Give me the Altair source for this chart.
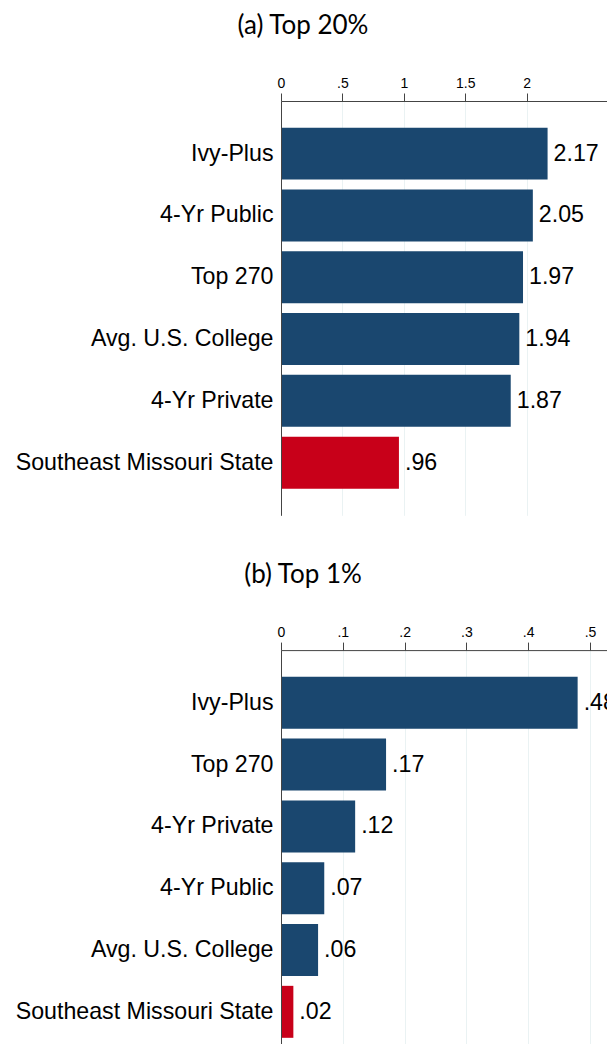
import altair as alt
import pandas as pd

# ---- data ----
cats_a = ["Ivy-Plus", "4-Yr Public", "Top 270", "Avg. U.S. College", "4-Yr Private", "Southeast Missouri State"]
vals_a = [2.17, 2.05, 1.97, 1.94, 1.87, 0.96]
cats_b = ["Ivy-Plus", "Top 270", "4-Yr Private", "4-Yr Public", "Avg. U.S. College", "Southeast Missouri State"]
vals_b = [0.48, 0.17, 0.12, 0.07, 0.06, 0.02]
highlight = "Southeast Missouri State"
ticks_a = [0, 0.5, 1, 1.5, 2]
ticks_b = [0, 0.1, 0.2, 0.3, 0.4, 0.5]
title_a = "(a) Top 20%"
title_b = "(b) Top 1%"

NAVY = "#1a476f"
RED = "#c80019"
GRID = "#eaf2f3"
AXIS = "#444444"
LABFONT = "Liberation Sans"
PLOT_W = 326


def fmt(v):
    s = f"{v:.2f}"
    return s[1:] if s.startswith("0") else s


def panel(cats, vals, ticks, xmax, title, height, pad_outer, align):
    df = pd.DataFrame({
        "cat": cats,
        "val": vals,
        "lab": [fmt(v) for v in vals],
        "grp": ["hl" if c == highlight else "base" for c in cats],
    })
    yscale = alt.Scale(paddingInner=0.159, paddingOuter=pad_outer, align=align)
    y = alt.Y("cat:N", sort=cats, title=None, scale=yscale,
              axis=alt.Axis(ticks=False, labelFontSize=23.2, labelFont=LABFONT,
                            labelColor="black", labelPadding=8, domainColor=AXIS,
                            domainWidth=1, labelLimit=400, zindex=1))
    x = alt.X("val:Q", title=None,
              scale=alt.Scale(domain=[0, xmax], nice=False, zero=True),
              axis=alt.Axis(orient="top", values=ticks, grid=True, gridColor=GRID,
                            gridWidth=1, tickSize=8, tickColor=AXIS, domainColor=AXIS,
                            labelFont=LABFONT, labelFontSize=14, labelColor="black",
                            labelPadding=3, labelFlush=False,
                            labelExpr="datum.value == 0 ? '0' : replace(format(datum.value, '.1~f'), '0.', '.')"))
    bars = alt.Chart(df).mark_bar().encode(
        x=x, y=y,
        color=alt.Color("grp:N", scale=alt.Scale(domain=["base", "hl"], range=[NAVY, RED]), legend=None),
    )
    text = alt.Chart(df).mark_text(align="left", baseline="middle", dx=6, fontSize=23.2,
                                   font=LABFONT, color="black", clip=True).encode(
        x=alt.X("val:Q"), y=alt.Y("cat:N", sort=cats), text="lab:N")
    return alt.layer(bars, text).properties(
        width=PLOT_W, height=height,
        title=alt.TitleParams(text=title, font="Lato", fontSize=26, fontWeight="normal",
                              color="black", anchor="middle", frame="group",
                              dx=303 - (281 + PLOT_W / 2), offset=37.5),
    )


pa = panel(cats_a, vals_a, ticks_a, PLOT_W / 122.85, title_a, 414.3, 0.431, 0.5)
pb = panel(cats_b, vals_b, ticks_b, PLOT_W / 618.0, title_b, 393.5, 0.2627, 0.822)

chart = alt.vconcat(pa, pb, spacing=45.1).configure_view(stroke=None).properties(
    padding={"left": 7, "top": 4, "right": 0, "bottom": 0})

chart.save("out.html", embed_options={"renderer": "svg", "actions": False})
